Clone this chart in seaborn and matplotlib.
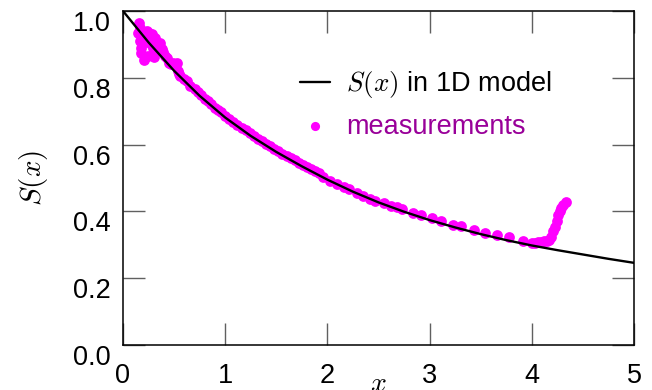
import pandas as pd
import matplotlib
matplotlib.use('Agg')
import matplotlib.pyplot as plt
import seaborn as sns

# 1D model curve S(x)
model_x = [0.0, 0.25, 0.5, 0.75, 1.0, 1.25, 1.5, 1.75, 2.0, 2.25, 2.5,
           2.75, 3.0, 3.25, 3.5, 3.75, 4.0, 4.25, 4.5, 4.75, 5.0]
model_s = [1.0, 0.906, 0.821, 0.746, 0.681, 0.626, 0.578, 0.535, 0.495, 0.459, 0.427,
           0.399, 0.374, 0.352, 0.332, 0.314, 0.298, 0.284, 0.271, 0.258, 0.246]

# measurements
meas_x = [0.15, 0.16, 0.165, 0.17, 0.175, 0.18, 0.19, 0.20, 0.21, 0.22, 0.23, 0.24,
          0.25, 0.26, 0.27, 0.28, 0.29, 0.30, 0.31, 0.32, 0.34, 0.36, 0.38, 0.395,
          0.41, 0.43, 0.45, 0.47, 0.49, 0.51, 0.525, 0.54, 0.55,
          0.56, 0.60, 0.63, 0.66, 0.70, 0.73, 0.76, 0.80, 0.83, 0.86, 0.90, 0.93,
          0.96, 1.00, 1.04, 1.08, 1.12, 1.16, 1.20, 1.24, 1.28, 1.32, 1.36, 1.40,
          1.44, 1.48, 1.52, 1.56, 1.60, 1.64, 1.68, 1.72, 1.76, 1.80, 1.84, 1.88,
          1.92, 1.96, 2.03, 2.09, 2.16, 2.21, 2.29, 2.35, 2.42, 2.47, 2.55, 2.62,
          2.68, 2.73, 2.84, 2.92, 3.02, 3.11, 3.23, 3.31, 3.43, 3.54, 3.66, 3.78,
          3.91, 4.00, 4.03, 4.06, 4.09, 4.12, 4.15, 4.17, 4.19, 4.21, 4.23, 4.245,
          4.26, 4.275, 4.29, 4.31, 4.335]
meas_s = [0.935, 0.965, 0.95, 0.91, 0.89, 0.873, 0.93, 0.905, 0.853, 0.92, 0.94, 0.865,
          0.935, 0.925, 0.90, 0.93, 0.89, 0.863, 0.92, 0.88, 0.895, 0.903, 0.885, 0.878,
          0.865, 0.858, 0.845, 0.84, 0.845, 0.838, 0.843, 0.82, 0.81,
          0.806, 0.796, 0.79, 0.776, 0.766, 0.757, 0.748, 0.738, 0.73, 0.722, 0.71, 0.705,
          0.697, 0.686, 0.676, 0.668, 0.66, 0.651, 0.643, 0.634, 0.625, 0.618, 0.611, 0.603,
          0.595, 0.587, 0.58, 0.573, 0.567, 0.56, 0.553, 0.546, 0.539, 0.533, 0.527, 0.521,
          0.514, 0.504, 0.492, 0.482, 0.474, 0.466, 0.454, 0.446, 0.436, 0.432, 0.424, 0.416,
          0.412, 0.406, 0.396, 0.389, 0.379, 0.371, 0.359, 0.356, 0.344, 0.336, 0.329, 0.322,
          0.312, 0.306, 0.305, 0.308, 0.309, 0.31, 0.311, 0.313, 0.324, 0.34, 0.354, 0.37,
          0.389, 0.40, 0.409, 0.418, 0.429]

x_ticks = [0, 1, 2, 3, 4, 5]
y_ticks = [0.0, 0.2, 0.4, 0.6, 0.8, 1.0]

sns.set_style('ticks')
plt.rcParams['font.family'] = ['Liberation Sans', 'DejaVu Sans']
plt.rcParams['mathtext.fontset'] = 'cm'
plt.rcParams['text.color'] = 'black'
plt.rcParams['axes.labelcolor'] = 'black'

model = pd.DataFrame({'x': model_x, 'S': model_s})
meas = pd.DataFrame({'x': meas_x, 'S': meas_s})

fig = plt.figure(figsize=(6.52, 3.9), dpi=100)
ax = fig.add_axes([123 / 652, 1 - 345 / 390, 511 / 652, 334 / 390])

sns.lineplot(data=model, x='x', y='S', color='black', linewidth=1.7,
             label=r'$S(x)$ in 1D model', ax=ax, zorder=3)
sns.scatterplot(data=meas, x='x', y='S', color='#ff00ff', s=60, linewidth=0,
                label='measurements', ax=ax, zorder=2)

ax.set_xlim(0, 5)
ax.set_ylim(0, 1)
ax.set_xticks(x_ticks)
ax.set_yticks(y_ticks)
ax.set_xticklabels([str(t) for t in x_ticks])
ax.set_yticklabels(['%.1f' % t for t in y_ticks])
for lab in ax.get_yticklabels():
    lab.set_va('top')

ax.tick_params(direction='in', length=16, width=1, color='#606060',
               top=True, right=True, labelsize=19.5, labelcolor='black')
ax.tick_params(axis='x', pad=13)
ax.tick_params(axis='y', pad=9)
for sp in ax.spines.values():
    sp.set_visible(True)
    sp.set_linewidth(1.1)
    sp.set_color('black')

ax.set_xlabel(r'$x$', fontsize=20)
ax.set_ylabel(r'$S(x)$', fontsize=21)
ax.xaxis.set_label_coords(0.5, -0.078)
ax.yaxis.set_label_coords(-0.142, 0.5)

leg = ax.legend(loc='upper left', bbox_to_anchor=(300 / 652, 1 - 69 / 390),
                bbox_transform=fig.transFigure, frameon=False, fontsize=19.5,
                handlelength=1.1, handletextpad=0.6, labelspacing=0.5,
                borderpad=0, borderaxespad=0, markerscale=0.85)
leg.get_texts()[0].set_color('black')
leg.get_texts()[1].set_color('#990099')

fig.savefig('out.png', dpi=100)
